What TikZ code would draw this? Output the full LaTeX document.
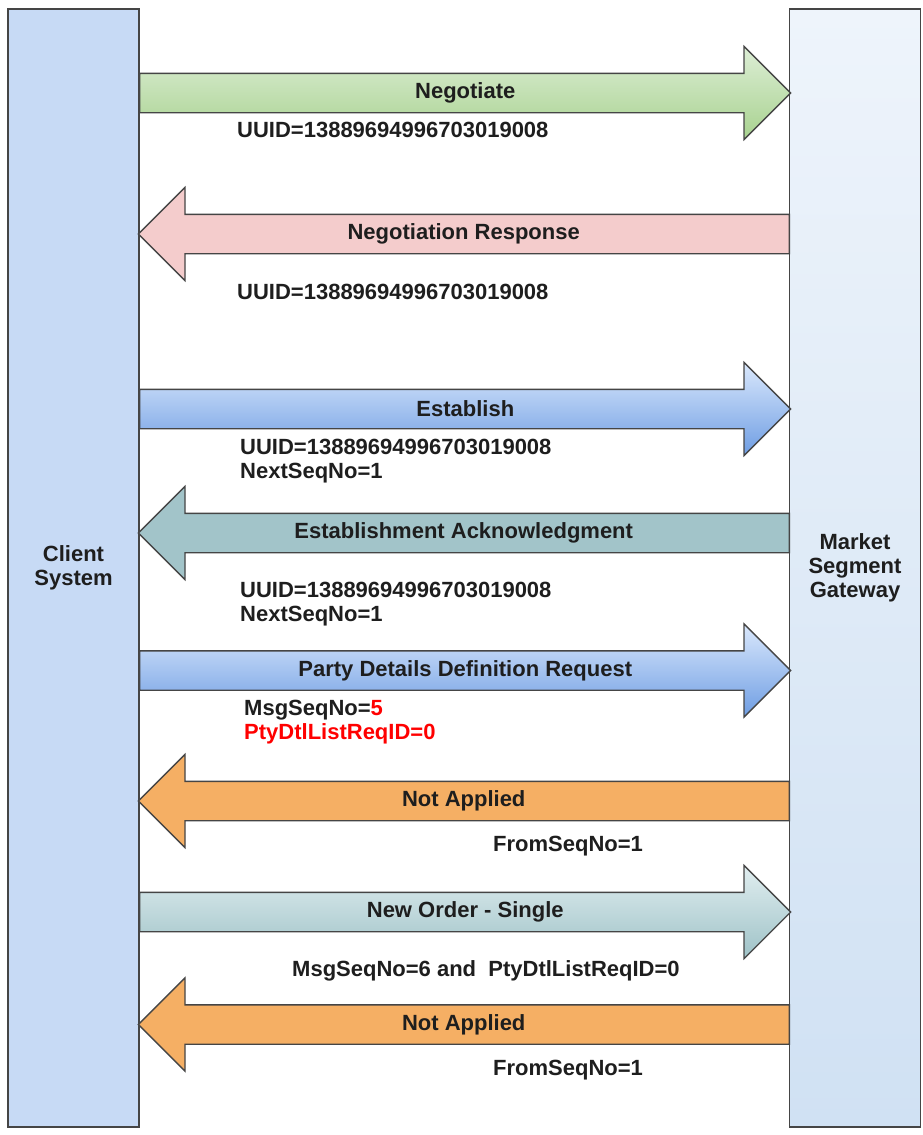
\documentclass[tikz,border=0pt]{standalone}
\usepackage{fontspec}
\setmainfont{Liberation Sans}
\usetikzlibrary{shapes.arrows,calc}
\definecolor{clientfill}{HTML}{C7DAF5}
\definecolor{edge}{HTML}{454545}
\definecolor{ink}{HTML}{1E1E1E}
\definecolor{pinkfill}{HTML}{F4CCCC}
\definecolor{tealfill}{HTML}{A2C4C9}
\definecolor{orangefill}{HTML}{F5AF64}
\begin{document}
\begin{tikzpicture}[x=1pt,y=-1pt,
    lbl/.style={font=\bfseries\fontsize{22}{24}\selectfont, text=ink},
    bar/.style={lbl, draw=edge, line width=1.3pt, minimum width=131pt, minimum height=1118pt, align=center},
    msg/.style={single arrow, draw=edge, line width=1.3pt, minimum height=651pt,
        single arrow head extend=27pt, single arrow tip angle=90,
        inner xsep=0pt, inner ysep=10pt, text height=14pt, text depth=4pt, anchor=tail},
    toleft/.style={shape border rotate=180},
    greenmsg/.style={top color={rgb,255:red,221;green,238;blue,214}, bottom color={rgb,255:red,168;green,210;blue,143}},
    bluemsg/.style={top color={rgb,255:red,218;green,232;blue,252}, bottom color={rgb,255:red,110;green,157;blue,227}},
    tealmsg/.style={top color={rgb,255:red,225;green,238;blue,240}, bottom color={rgb,255:red,158;green,194;blue,199}},
    note/.style={lbl, anchor=west, align=left, inner sep=0pt}]
  \useasboundingbox (0,0) rectangle (923,1135);
  % the two sides
  \node[bar, fill=clientfill] (client) at (73.5,568) {Client\\System};
  \node[bar, top color={rgb,255:red,238;green,244;blue,251}, bottom color={rgb,255:red,208;green,225;blue,243}] (gateway) at (855,568) {Market\\Segment\\Gateway};
  % session
  \node[msg, greenmsg] (negotiate) at (139,93) {};
  \node[lbl] (negotiateL) at ($(negotiate.tail)!.5!(negotiate.tip)$) {Negotiate};
  \node[note] (uuidA) at (237,130) {UUID=13889694996703019008};
  \node[msg, toleft, fill=pinkfill] (negresp) at (790,234) {};
  \node[lbl] (negrespL) at ($(negresp.tail)!.5!(negresp.tip)$) {Negotiation Response};
  \node[note] (uuidB) at (237,292) {UUID=13889694996703019008};
  \node[msg, bluemsg] (establish) at (139,409) {};
  \node[lbl] (establishL) at ($(establish.tail)!.5!(establish.tip)$) {Establish};
  \node[note] (uuidC) at (240,461) {UUID=13889694996703019008\\NextSeqNo=1};
  \node[msg, toleft, fill=tealfill] (estack) at (790,533) {};
  \node[lbl] (estackL) at ($(estack.tail)!.5!(estack.tip)$) {Establishment Acknowledgment};
  \node[note] (uuidD) at (240,604.5) {UUID=13889694996703019008\\NextSeqNo=1};
  % requests
  \node[msg, bluemsg] (partydef) at (139,670.5) {};
  \node[lbl] (partydefL) at ($(partydef.tail)!.5!(partydef.tip)$) {Party Details Definition Request};
  \node[note] (seqA) at (244,722.5) {MsgSeqNo=\textcolor{red}{5}\\\textcolor{red}{PtyDtlListReqID=0}};
  \node[msg, toleft, fill=orangefill] (notappA) at (790,801) {};
  \node[lbl] (notappAL) at ($(notappA.tail)!.5!(notappA.tip)$) {Not Applied};
  \node[note] (fromA) at (493,846) {FromSeqNo=1};
  \node[msg, tealmsg] (neworder) at (139,912) {};
  \node[lbl] (neworderL) at ($(neworder.tail)!.5!(neworder.tip)$) {New Order - Single};
  \node[note] (seqB) at (292,971) {MsgSeqNo=6 and\ \ PtyDtlListReqID=0};
  \node[msg, toleft, fill=orangefill] (notappB) at (790,1024.5) {};
  \node[lbl] (notappBL) at ($(notappB.tail)!.5!(notappB.tip)$) {Not Applied};
  \node[note] (fromB) at (493,1070) {FromSeqNo=1};
\end{tikzpicture}
\end{document}
